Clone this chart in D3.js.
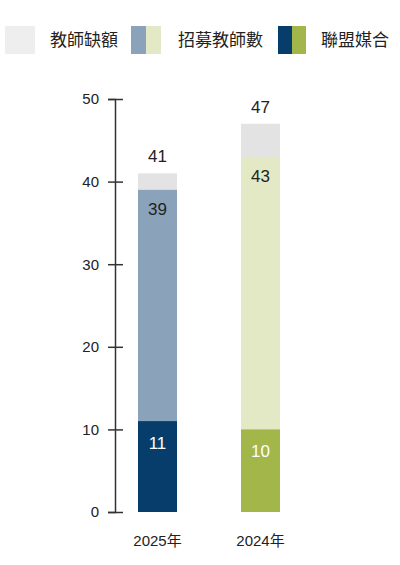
<!DOCTYPE html>
<meta charset="utf-8">
<style>
body { margin: 0; background: #fff; font-family: "Liberation Sans", Arial, "Noto Sans CJK TC", sans-serif; }
.axis path, .axis line { stroke: #333; stroke-width: 1.5; }
.axis text { font-size: 15px; fill: #222; }
</style>
<body>
<script src="https://cdn.jsdelivr.net/npm/d3@7"></script>
<script>
// data
var years = ["2025年", "2024年"];
var shortage = [41, 47];     // 教師缺額
var recruited = [39, 43];    // 招募教師數
var matched = [11, 10];      // 聯盟媒合
var yTicks = [0, 10, 20, 30, 40, 50];

var legendItems = ["教師缺額", "招募教師數", "聯盟媒合"];
var greyCol = "#e3e3e3",
    lightCols = ["#8aa3bb", "#e2e9c4"],
    darkCols = ["#073d6b", "#a3b64a"];

var width = 400, height = 565;
var barW = 39;

var svg = d3.select("body").append("svg")
  .attr("width", width)
  .attr("height", height);

var x = d3.scalePoint().domain(years).range([157.5, 260.5]);
var y = d3.scaleLinear().domain([0, 50]).range([512, 99]);

// legend
var lg = svg.append("g").attr("class", "legend");
lg.append("rect").attr("x", 5).attr("y", 26).attr("width", 30).attr("height", 28).attr("fill", "#eeeeee");
lg.append("rect").attr("x", 131).attr("y", 26).attr("width", 15).attr("height", 28).attr("fill", lightCols[0]);
lg.append("rect").attr("x", 146).attr("y", 26).attr("width", 15).attr("height", 28).attr("fill", lightCols[1]);
lg.append("rect").attr("x", 278).attr("y", 26).attr("width", 14).attr("height", 28).attr("fill", darkCols[0]);
lg.append("rect").attr("x", 292).attr("y", 26).attr("width", 14).attr("height", 28).attr("fill", darkCols[1]);
var legendX = [50, 178, 321];
lg.selectAll("text.lt")
  .data(legendItems)
  .enter().append("text")
  .attr("class", "lt")
  .attr("x", function(d, i) { return legendX[i]; })
  .attr("y", 46)
  .style("font-size", "17px")
  .style("font-family", "'Noto Sans CJK TC', sans-serif")
  .attr("fill", "#222")
  .text(function(d) { return d; });

// axis
var yAxis = d3.axisLeft(y).tickValues(yTicks).tickSizeOuter(0).tickSize(7).tickPadding(9);
var ax = svg.append("g")
  .attr("class", "axis")
  .attr("transform", "translate(115,0)")
  .call(yAxis);
ax.selectAll(".tick line").attr("x1", 8).attr("x2", -7);

// bars: grey total, light recruited, dark matched, all from 0
var bars = svg.append("g");
years.forEach(function(yr, i) {
  var x0 = x(yr) - barW / 2;
  bars.append("rect").attr("x", x0).attr("width", barW)
    .attr("y", y(shortage[i])).attr("height", y(0) - y(shortage[i])).attr("fill", greyCol);
  bars.append("rect").attr("x", x0).attr("width", barW)
    .attr("y", y(recruited[i])).attr("height", y(0) - y(recruited[i])).attr("fill", lightCols[i]);
  bars.append("rect").attr("x", x0).attr("width", barW)
    .attr("y", y(matched[i])).attr("height", y(0) - y(matched[i])).attr("fill", darkCols[i]);

  bars.append("text").attr("x", x(yr)).attr("y", y(shortage[i]) - 11)
    .attr("text-anchor", "middle").style("font-size", "17px").attr("fill", "#222")
    .text(shortage[i]);
  bars.append("text").attr("x", x(yr)).attr("y", y(recruited[i]) + 25)
    .attr("text-anchor", "middle").style("font-size", "17px").attr("fill", "#222")
    .text(recruited[i]);
  bars.append("text").attr("x", x(yr)).attr("y", y(matched[i]) + 28)
    .attr("text-anchor", "middle").style("font-size", "17px").attr("fill", "#fff")
    .text(matched[i]);
});

// x labels
svg.selectAll("text.xl")
  .data(years)
  .enter().append("text")
  .attr("class", "xl")
  .attr("x", function(d) { return x(d); })
  .attr("y", 546)
  .attr("text-anchor", "middle")
  .style("font-size", "15px")
  .attr("fill", "#222")
  .text(function(d) { return d; });
</script>
</body>
